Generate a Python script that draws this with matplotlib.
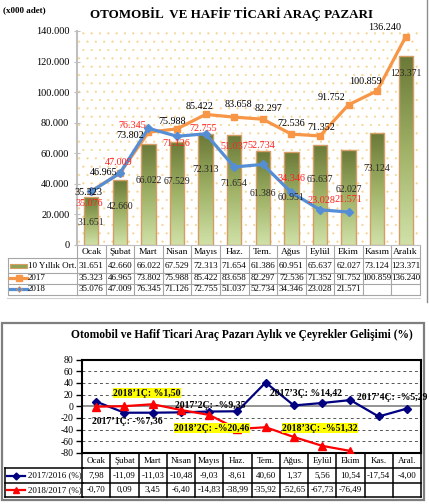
import numpy as np
import matplotlib.pyplot as plt
from matplotlib.colors import LinearSegmentedColormap
from matplotlib.lines import Line2D
from matplotlib.patches import Rectangle
from matplotlib.transforms import blended_transform_factory

plt.rcParams['font.family'] = ['Liberation Serif', 'DejaVu Serif']
plt.rcParams['hatch.linewidth'] = 0.3

W, H = 429, 504

# --- top chart data (x000 adet) ---
months = ['Ocak', 'Şubat', 'Mart', 'Nisan', 'Mayıs', 'Haz.', 'Tem.', 'Ağus', 'Eylül', 'Ekim', 'Kasım', 'Aralık']
avg10 = [31651, 42660, 66022, 67529, 72313, 71654, 61386, 60951, 65637, 62027, 73124, 123371]
sales2017 = [35323, 46965, 73802, 75988, 85422, 83658, 82297, 72536, 71352, 91752, 100859, 136240]
sales2018 = [35076, 47009, 76345, 71126, 72755, 51037, 52734, 34346, 23028, 21571]

# --- bottom chart data (%) ---
months_short = ['Ocak', 'Şubat', 'Mart', 'Nisan', 'Mayıs', 'Haz.', 'Tem.', 'Ağus.', 'Eylül', 'Ekim', 'Kas.', 'Aral.']
chg2017 = [7.98, -11.09, -11.03, -10.48, -9.03, -8.61, 40.60, 1.37, 5.56, 10.54, -17.54, -4.00]
chg2018 = [-0.70, 0.09, 3.45, -6.40, -14.83, -38.99, -35.92, -52.65, -67.73, -76.49]
quarter_notes = ['2018’1Ç: %1,50', '2017’1Ç: -%7,36', '2017’2Ç: -%9,35', '2018’2Ç: -%20,46',
                 '2017’3Ç: %14,42', '2018’3Ç: -%51,32', '2017’4Ç: -%5,29']

# label placement (style only)
off2017 = [(-3, -1), (-16, 1), (-18, -3), (-5, 7), (-6, 8), (4, 13), (6, 11), (0, 11), (1, 8), (-17, 7), (-12, 9), (-21, 9)]
off2018 = [(-2, -12), (-1, 11), (-16, 3), (-1, -7), (-2, 5), (0, 20), (-1, 19), (0, 14), (1, 9), (0, 13)]
bar_lab_frac = [0.455, 0.584, 0.635, 0.62, 0.687, 0.557, 0.554, 0.515, 0.648, 0.59, 0.68, 0.912]
note_pos = [(1.80, 22), (1.09, -26), (4.03, 2), (4.10, -38), (7.43, 22), (7.92, -38), (10.47, 15)]
note_hl = [True, False, False, True, False, True, False]

C17 = '#f79646'
C18 = '#558ed5'
NAVY = '#000080'
RED = '#ff0000'


def fmt(v):
    return f"{v:,}".replace(',', '.')


def fmtp(v):
    return f"{v:.2f}".replace('.', ',')


fig = plt.figure(figsize=(W / 100, H / 100), dpi=100)
ov = fig.add_axes([0, 0, 1, 1], zorder=-1)
ov.set_xlim(0, W)
ov.set_ylim(H, 0)
ov.axis('off')

# ================= top chart =================
ax1 = fig.add_axes([77 / W, 1 - 245 / H, 343 / W, 214 / H])
x = np.arange(len(months))
ax1.patch.set_visible(False)
ax1.add_patch(Rectangle((0, 0), 1, 1, transform=ax1.transAxes, facecolor='white',
                        edgecolor='#f6d392', hatch='..', lw=0, zorder=0))

bars = ax1.bar(x, avg10, width=0.5, color='none', edgecolor='#d49e64', linewidth=1, zorder=2)
cmap = LinearSegmentedColormap.from_list('olive', ['#d0e1a8', '#9fb266', '#6b7a38'])
grad = np.linspace(0, 1, 64).reshape(-1, 1)
for b in bars:
    im = ax1.imshow(grad, extent=[b.get_x(), b.get_x() + b.get_width(), 0, b.get_height()],
                    origin='lower', cmap=cmap, aspect='auto', zorder=1.9)
    im.set_clip_path(b)

ax1.plot(x, sales2017, color=C17, lw=2.3, marker='s', ms=4.5, zorder=3)
ax1.plot(x[:len(sales2018)], sales2018, color=C18, lw=2.3, marker='D', ms=4, zorder=4)

for i, v in enumerate(avg10):
    ax1.text(i, v * bar_lab_frac[i], fmt(v), ha='center', va='center', fontsize=7, color='#262626', zorder=5)
for i, v in enumerate(sales2017):
    ax1.annotate(fmt(v), (i, v), xytext=off2017[i], textcoords='offset pixels',
                 ha='center', va='center', fontsize=7.3, color='black', zorder=6)
for i, v in enumerate(sales2018):
    ax1.annotate(fmt(v), (i, v), xytext=off2018[i], textcoords='offset pixels',
                 ha='center', va='center', fontsize=7.3, color='#ff2020', zorder=6)

ax1.set_xlim(-0.5, 11.5)
ax1.set_ylim(0, 140000)
ax1.set_yticks(np.arange(0, 140001, 20000))
ax1.set_yticklabels([fmt(int(t)) for t in np.arange(0, 140001, 20000)], fontsize=7.5)
ax1.set_xticks([])
for s in ['top', 'right']:
    ax1.spines[s].set_visible(False)
ax1.spines['left'].set_color('#bfbfbf')
ax1.spines['left'].set_linewidth(1.5)
ax1.spines['bottom'].set_color('#bfbfbf')
ax1.spines['bottom'].set_linewidth(0.8)
ax1.tick_params(axis='y', direction='inout', length=5, color='#bfbfbf', pad=3)

ov.text(3, 10, '(x000 adet)', fontsize=6.5, fontweight='bold', va='center', ha='left')
ov.text(232, 14, 'OTOMOBİL  VE HAFİF TİCARİ ARAÇ PAZARI', fontsize=9.4, fontweight='bold',
        va='center', ha='center')

# top table
tr1 = blended_transform_factory(ax1.transData, ov.transData)
rows1 = [245, 258, 273, 283.5, 294.5]
gcol = '#a6a6a6'
for k in range(13):
    ov.add_line(Line2D([k - 0.5, k - 0.5], [rows1[0], rows1[-1]], transform=tr1, color=gcol, lw=0.8))
for yy in rows1[1:]:
    ov.add_line(Line2D([-0.5, 11.5], [yy, yy], transform=tr1, color=gcol, lw=0.8))
    ov.add_line(Line2D([8, 78], [yy, yy], color=gcol, lw=0.8))
ov.add_line(Line2D([8, 8], [rows1[1], rows1[-1]], color=gcol, lw=0.8))
for i, m in enumerate(months):
    ov.text(i, 251.5, m, transform=tr1, ha='center', va='center', fontsize=6.8)
row_vals = [avg10, sales2017, sales2018]
row_y = [265.5, 278, 289]
for vals, yy in zip(row_vals, row_y):
    for i, v in enumerate(vals):
        ov.text(i, yy, fmt(v), transform=tr1, ha='center', va='center', fontsize=6.5)
ov.add_patch(Rectangle((10, 263.5), 17, 4.5, facecolor='#8fa255', edgecolor='#d49e64', lw=0.8))
ov.text(28, row_y[0], '10 Yıllık Ort.', fontsize=6.5, va='center')
ov.add_line(Line2D([10, 27], [row_y[1]] * 2, color=C17, lw=2.3))
ov.plot([18.5], [row_y[1]], marker='s', ms=4, color=C17)
ov.text(28, row_y[1], '2017', fontsize=6.5, va='center')
ov.add_line(Line2D([10, 27], [row_y[2]] * 2, color=C18, lw=2.3))
ov.plot([18.5], [row_y[2]], marker='D', ms=3, color=C18, mec=C17, mew=0.5)
ov.text(28, row_y[2], '2018', fontsize=6.5, va='center')

ov.add_line(Line2D([426.5, 426.5], [0, 302], color='#8c8c8c', lw=1))
ov.add_line(Line2D([7, 420], [297.5, 297.5], color='#d0d0d0', lw=0.8))

# ================= bottom chart =================
ov.add_patch(Rectangle((2, 323), 422, 177, facecolor='none', edgecolor='#7f7f7f', lw=1.6))
ov.text(242, 335, 'Otomobil ve Hafif Ticari Araç Pazarı Aylık ve Çeyrekler Gelişimi (%)',
        fontsize=8.3, fontweight='bold', ha='center', va='center')

ax2 = fig.add_axes([82 / W, 1 - 453 / H, 339 / W, 93.5 / H])
ax2.set_xlim(-0.5, 11.5)
ax2.set_ylim(-80, 80)
ax2.set_yticks(np.arange(-80, 81, 20))
ax2.set_yticklabels([str(t) for t in np.arange(-80, 81, 20)], fontsize=7)
ax2.set_xticks([])
ax2.tick_params(axis='y', direction='out', length=4, width=1, pad=2)
for s in ax2.spines.values():
    s.set_linewidth(1.5)
for t in np.arange(-60, 61, 20):
    if t != 0:
        ax2.axhline(t, color='#555555', lw=0.7, ls=(0, (3, 3)), zorder=1)
ax2.axhline(0, color='#808080', lw=1.2, zorder=1)

ax2.plot(x, chg2017, color=NAVY, lw=1.6, marker='D', ms=4.5, zorder=3)
ax2.plot(x[:len(chg2018)], chg2018, color=RED, lw=1.6, marker='^', ms=5.5, zorder=3)

for txt, (nx, ny), hl in zip(quarter_notes, note_pos, note_hl):
    kw = dict(boxstyle='square,pad=0.05', facecolor='#ffff00', edgecolor='none') if hl else None
    ax2.text(nx, ny, txt, ha='center', va='center', fontsize=7, fontweight='bold',
             bbox=kw, zorder=5, clip_on=False)

tr2 = blended_transform_factory(ax2.transData, ov.transData)
rows2 = [453, 468, 483, 496.5]
for k in range(13):
    ov.add_line(Line2D([k - 0.5, k - 0.5], [rows2[0], rows2[-1]], transform=tr2, color='black', lw=1.1))
for yy in rows2[1:]:
    ov.add_line(Line2D([-0.5, 11.5], [yy, yy], transform=tr2, color='black', lw=1.1))
    ov.add_line(Line2D([5, 83], [yy, yy], color='black', lw=1.1))
ov.add_line(Line2D([5, 5], [rows2[1], rows2[-1]], color='black', lw=1.1))
for i, m in enumerate(months_short):
    ov.text(i, 461, m, transform=tr2, ha='center', va='center', fontsize=6.5)
row2_y = [475.5, 490]
for vals, yy in zip([chg2017, chg2018], row2_y):
    for i, v in enumerate(vals):
        ov.text(i, yy, fmtp(v), transform=tr2, ha='center', va='center', fontsize=6.5)
ov.add_line(Line2D([7, 25], [row2_y[0]] * 2, color=NAVY, lw=1.6))
ov.plot([16], [row2_y[0]], marker='D', ms=3.5, color=NAVY)
ov.text(28, row2_y[0], '2017/2016 (%)', fontsize=6.5, va='center')
ov.add_line(Line2D([7, 25], [row2_y[1]] * 2, color=RED, lw=1.6))
ov.plot([16], [row2_y[1]], marker='^', ms=4.5, color=RED)
ov.text(28, row2_y[1], '2018/2017 (%)', fontsize=6.5, va='center')

fig.savefig('out.png', dpi=100)
